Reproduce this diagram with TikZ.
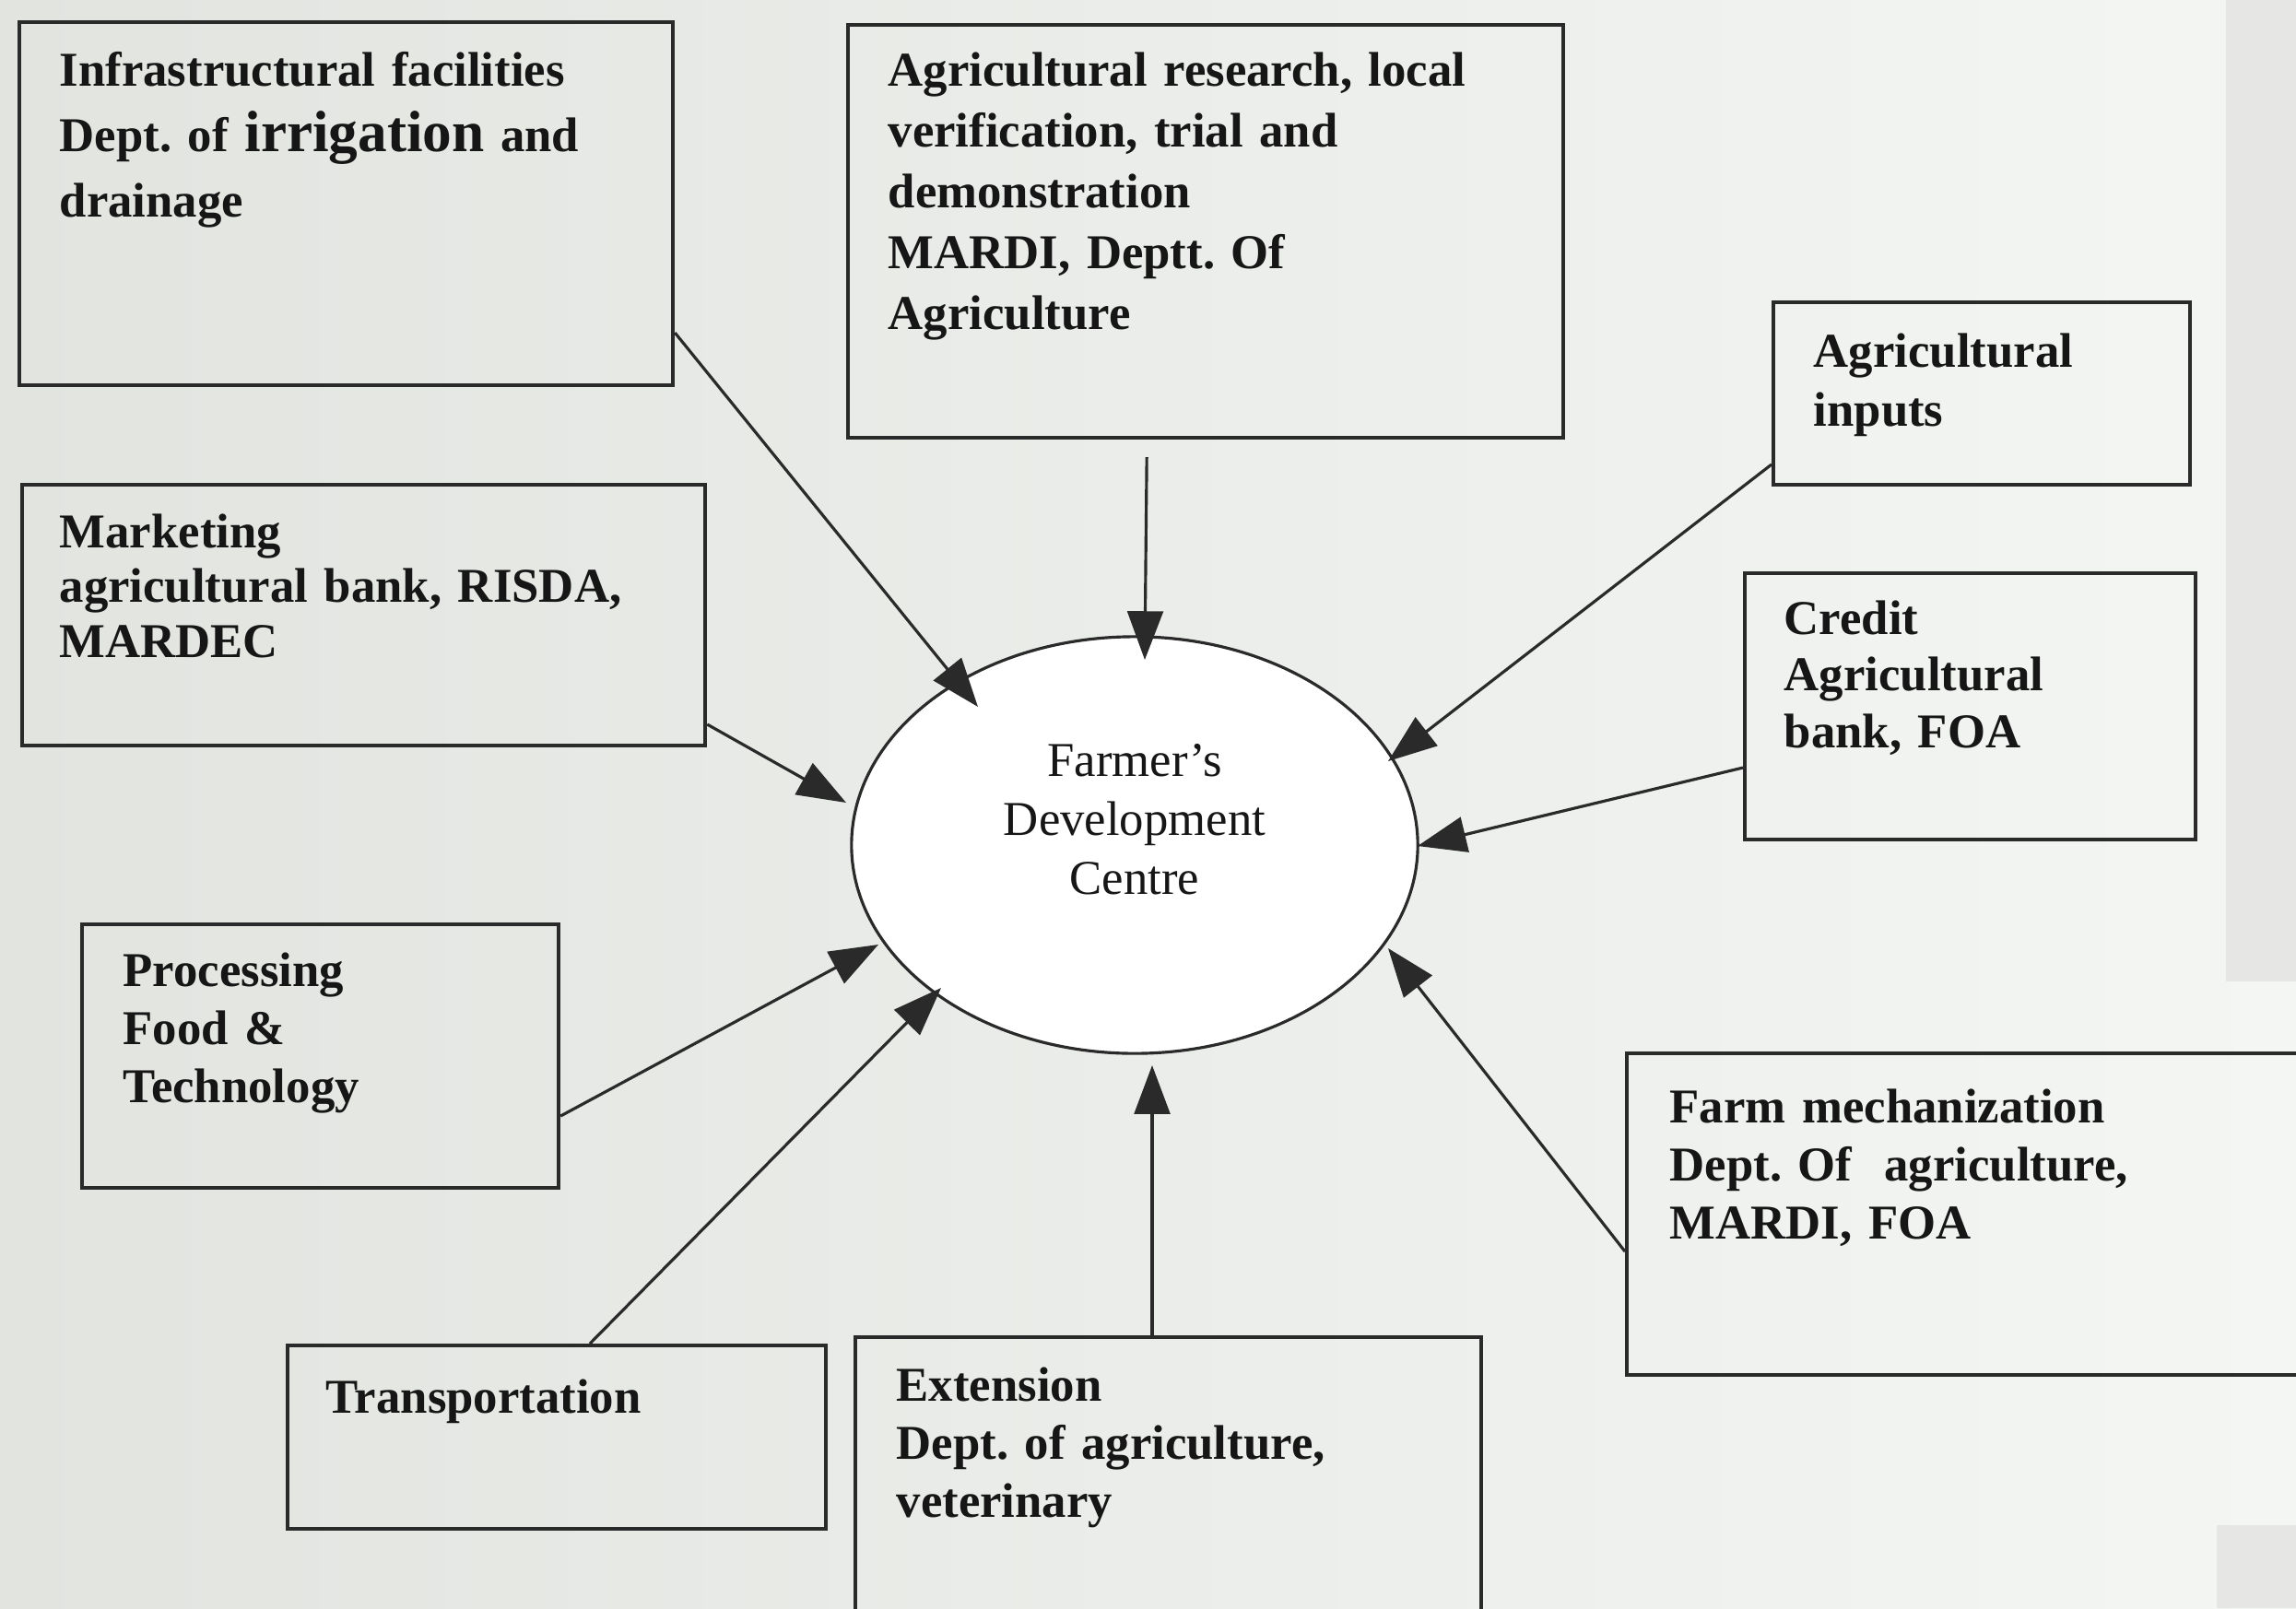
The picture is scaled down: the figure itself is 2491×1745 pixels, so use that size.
\documentclass[tikz,border=0pt]{standalone}
\usepackage{fontspec}
\setmainfont{Liberation Serif}
\usetikzlibrary{arrows.meta,shapes.geometric,calc}
\definecolor{bgl}{HTML}{E2E4E0}
\definecolor{bgr}{HTML}{F3F6F3}
\definecolor{strip}{HTML}{E6E7E4}
\definecolor{linec}{HTML}{2A2A2A}
\definecolor{textc}{HTML}{161616}
\newcommand{\bx}[1]{\fontsize{15}{#1}\selectfont\bfseries\frenchspacing}
\tikzset{
  box/.style={draw=linec, line width=1.1pt, anchor=north west, inner sep=0pt},
  txt/.style={anchor=base west, inner sep=0pt, align=left, text width=8cm, text=textc},
  arr/.style={draw=linec, line width=0.9pt, -{Triangle[length=15pt,width=11pt]}},
}
\begin{document}
\begin{tikzpicture}[x=0.01cm,y=0.01cm]
\useasboundingbox (0,0) rectangle (2491,-1745);
\clip (0,0) rectangle (2491,-1745);
% background (photographed slide)
\fill[left color=bgl, right color=bgr] (0,0) rectangle (2491,-1745);
\fill[strip] (2415,0) rectangle (2491,-1065);
\fill[strip] (2405,-1655) rectangle (2491,-1745);

% boxes
\node[box, minimum width=7.09cm, minimum height=3.94cm] (infra) at (19,-22) {};
\node[box, minimum width=7.76cm, minimum height=4.48cm] (research) at (918,-25) {};
\node[box, minimum width=4.52cm, minimum height=1.98cm] (inputs) at (1922,-326) {};
\node[box, minimum width=7.41cm, minimum height=2.83cm] (market) at (22,-524) {};
\node[box, minimum width=4.89cm, minimum height=2.89cm] (credit) at (1891,-620) {};
\node[box, minimum width=5.17cm, minimum height=2.86cm] (proc) at (87,-1001) {};
\node[box, minimum width=7.60cm, minimum height=3.49cm] (farm) at (1763,-1141) {};
\node[box, minimum width=5.84cm, minimum height=1.99cm] (trans) at (310,-1458) {};
\node[box, minimum width=6.79cm, minimum height=3.40cm] (ext) at (926,-1449) {};

% centre
\node[draw=linec, line width=0.9pt, ellipse, fill=white, inner sep=0pt,
      minimum width=6.14cm, minimum height=4.52cm] (fdc) at (1231,-917) {};

% texts
\node[txt, font=\bx{20.2pt}] (infraT) at (64,-93)
  {Infrastructural facilities\\Dept. of {\fontsize{18}{20}\selectfont irrigation} and\\drainage};
\node[txt, font=\bx{18.8pt}] (researchT) at (963,-93)
  {Agricultural research, local\\verification, trial and\\demonstration\\MARDI, Deptt. Of\\Agriculture};
\node[txt, font=\bx{18.2pt}] (inputsT) at (1967,-398)
  {Agricultural\\inputs};
\node[txt, font=\bx{17pt}] (marketT) at (64,-594)
  {Marketing\\agricultural bank, RISDA,\\MARDEC};
\node[txt, font=\bx{17.6pt}] (creditT) at (1935,-688)
  {Credit\\Agricultural\\bank, FOA};
\node[txt, font=\bx{18pt}] (procT) at (133,-1070)
  {Processing\\Food \&\\Technology};
\node[txt, font=\bx{18pt}] (farmT) at (1811,-1218)
  {Farm mechanization\\Dept. Of\ \ agriculture,\\MARDI, FOA};
\node[txt, font=\bx{18pt}] (transT) at (353,-1533)
  {Transportation};
\node[txt, font=\bx{18pt}] (extT) at (972,-1520)
  {Extension\\Dept. of agriculture,\\veterinary};
\node[anchor=base, inner sep=0pt, align=center, text width=4cm, text=textc,
      font=\fontsize{15}{18.2pt}\selectfont] (fdcT) at (1231,-842)
  {Farmer's\\Development\\Centre};

% arrow tips on the centre
\coordinate (t1) at (1061,-767);
\coordinate (t2) at (1242,-716);
\coordinate (t3) at (1506,-826);
\coordinate (t4) at (918,-871);
\coordinate (t5) at (1538,-918);
\coordinate (t6) at (953,-1025);
\coordinate (t7) at (1506,-1029);
\coordinate (t8) at (1021,-1072);
\coordinate (t9) at (1250,-1156);

% connectors
\draw[arr] ($(infra.south east)+(0,59)$) -- (t1);
\draw[arr] ($(research.south)+(-64,-19)$) -- (t2);
\draw[arr] ($(inputs.south west)+(0,24)$) -- (t3);
\draw[arr] ($(market.south east)+(0,25)$) -- (t4);
\draw[arr] ($(credit.south west)+(0,80)$) -- (t5);
\draw[arr] ($(proc.south east)+(0,80)$) -- (t6);
\draw[arr] ($(farm.south west)+(0,136)$) -- (t7);
\draw[arr] ($(trans.north west)+(330,0)$) -- (t8);
\draw[arr] ($(ext.north west)+(324,0)$) -- (t9);
\end{tikzpicture}
\end{document}
